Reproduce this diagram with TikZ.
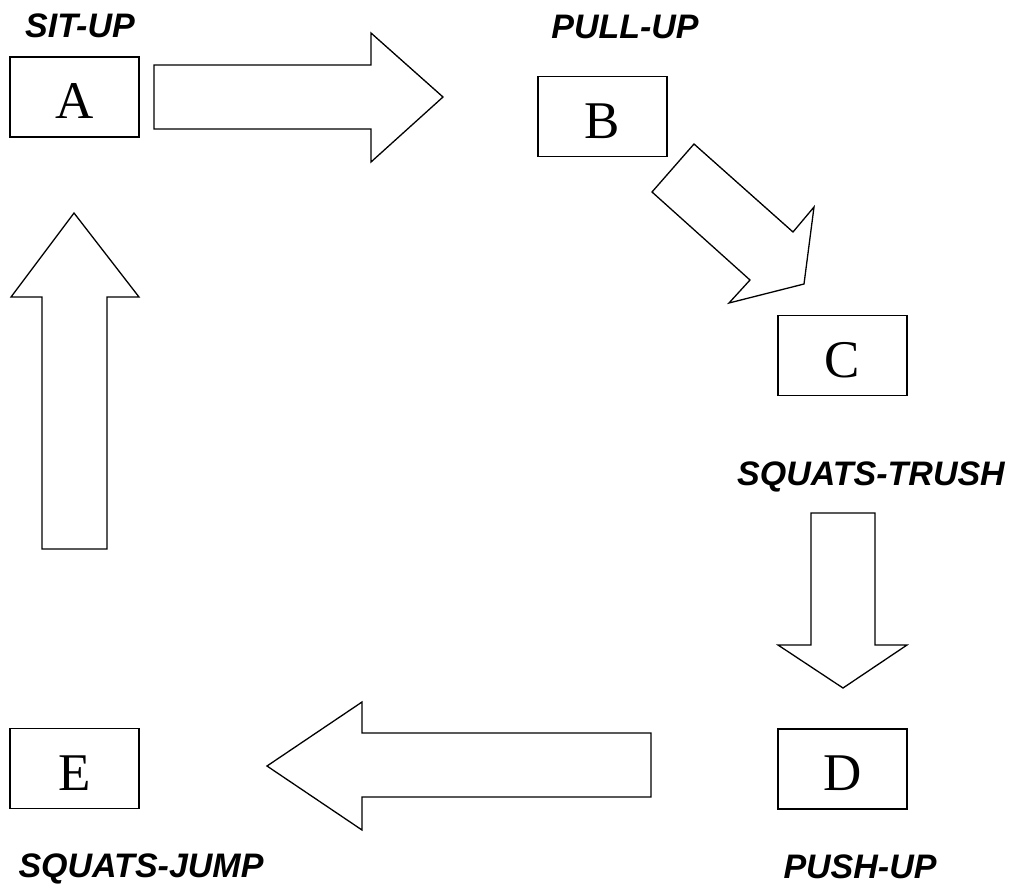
\documentclass[tikz,border=0pt]{standalone}
\usepackage{fontspec}
\setmainfont{Liberation Serif}
\newfontfamily\labelfont{Liberation Sans}
\begin{document}
\begin{tikzpicture}[x=1pt,y=-1pt,
  stationbox/.style={draw, line width=1.3pt, minimum width=129pt, minimum height=80pt,
    inner sep=0pt, text height=43pt, text depth=0pt,
    font=\fontsize{53}{53}\selectfont},
  exlabel/.style={anchor=base, inner sep=0pt,
    font=\labelfont\bfseries\itshape\fontsize{34}{34}\selectfont},
  blockarrow/.style={draw, line width=1.3pt, line join=miter, fill=white}]
\useasboundingbox (0,0) rectangle (1012,884);

% exercise stations
\node[stationbox] (A) at (74.5,97) {A};
\node[stationbox] (B) at (602.5,116.5) {B};
\node[stationbox] (C) at (842.5,355.5) {C};
\node[stationbox] (D) at (842.5,769) {D};
\node[stationbox] (E) at (74.5,768.5) {E};

% station names
\node[exlabel] (lA) at (80,37) {SIT-UP};
\node[exlabel] (lB) at (625,38) {PULL-UP};
\node[exlabel] (lC) at (871,485) {SQUATS-TRUSH};
\node[exlabel] (lD) at (860,878) {PUSH-UP};
\node[exlabel] (lE) at (141,877) {SQUATS-JUMP};

% block arrows between stations
\draw[blockarrow] (154,65) -- (371,65) -- (371,33) -- (443,97) -- (371,162)
  -- (371,129) -- (154,129) -- cycle;
\draw[blockarrow] (652,192) -- (694,144) -- (793,232) -- (814,207) -- (804,284)
  -- (729,303) -- (750,280) -- cycle;
\draw[blockarrow] (811,513) -- (875,513) -- (875,645) -- (907,645) -- (843,688)
  -- (778,645) -- (811,645) -- cycle;
\draw[blockarrow] (651,733) -- (362,733) -- (362,702) -- (267,766) -- (362,830)
  -- (362,797) -- (651,797) -- cycle;
\draw[blockarrow] (42,549) -- (42,297) -- (11,297) -- (74,213) -- (139,297)
  -- (107,297) -- (107,549) -- cycle;
\end{tikzpicture}
\end{document}
